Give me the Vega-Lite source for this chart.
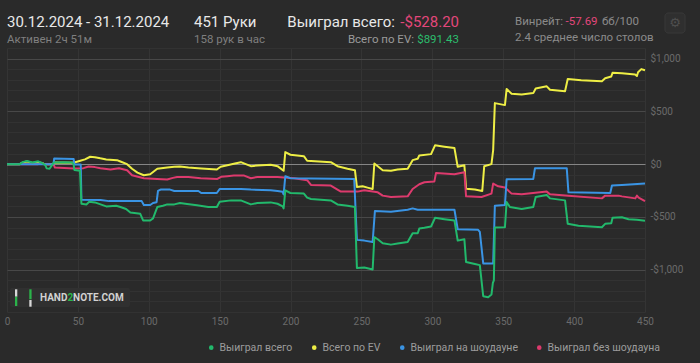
{
  "$schema": "https://vega.github.io/schema/vega-lite/v6.json",
  "width": 638,
  "height": 264,
  "autosize": {"type": "none"},
  "padding": {"left": 7, "top": 48, "right": 55, "bottom": 51},
  "background": "#2a2a2a",
  "config": {
    "view": {"stroke": null},
    "font": "Roboto",
    "text": {"font": "Roboto"}
  },
  "layer": [
    {
      "encoding": {
        "x": {
          "field": "h", "type": "quantitative",
          "scale": {"domain": [0, 450], "nice": false, "zero": false},
          "axis": {
            "values": [0, 50, 100, 150, 200, 250, 300, 350, 400, 450],
            "grid": true, "gridColor": "#343434", "ticks": false, "domain": false,
            "labelColor": "#6a6a6a", "labelFont": "Roboto", "labelFontSize": 10,
            "labelPadding": 4, "labelFlush": false, "labelOverlap": false, "title": null
          }
        },
        "y": {
          "field": "v", "type": "quantitative",
          "scale": {"domain": [-1400, 1100], "nice": false, "zero": false},
          "axis": {
            "orient": "right",
            "values": [-1400, -1300, -1200, -1100, -1000, -900, -800, -700, -600, -500, -400, -300, -200, -100, 0, 100, 200, 300, 400, 500, 600, 700, 800, 900, 1000, 1100],
            "grid": true,
            "gridColor": {"condition": [{"test": "datum.value === 0", "value": "#858585"}, {"test": "datum.value % 500 === 0", "value": "#484848"}], "value": "#323232"},
            "ticks": false, "domain": false,
            "labelExpr": "datum.value % 500 !== 0 ? '' : (datum.value < 0 ? '-$' + format(-datum.value, ',') : '$' + format(datum.value, ','))",
            "labelColor": "#6a6a6a", "labelFont": "Roboto", "labelFontSize": 10,
            "labelPadding": 5, "labelOverlap": false, "labelBound": false, "title": null
          }
        }
      },
      "layer": [
        {
          "data": {"values": [
            {"h":0,"v":0},{"h":9,"v":0},{"h":11,"v":15},{"h":14,"v":25},{"h":18,"v":12},{"h":22,"v":20},{"h":26,"v":5},{"h":28,"v":0},{"h":32.8,"v":0},{"h":33.5,"v":15},{"h":46,"v":14},{"h":48,"v":18},{"h":51.7,"v":32},{"h":55,"v":45},{"h":58.7,"v":70},{"h":62,"v":66},{"h":65.8,"v":55},{"h":70,"v":45},{"h":77.6,"v":38},{"h":80,"v":25},{"h":84.7,"v":0},{"h":88.2,"v":-44},{"h":92,"v":-80},{"h":96.5,"v":-105},{"h":101,"v":-95},{"h":106,"v":-44},{"h":113,"v":-32},{"h":118,"v":-25},{"h":122,"v":-22},{"h":128,"v":-32},{"h":137,"v":-40},{"h":148,"v":-51},{"h":150.7,"v":-25},{"h":157,"v":-5},{"h":160,"v":4},{"h":164.9,"v":19},{"h":172,"v":-19},{"h":176.6,"v":-13},{"h":186,"v":-6},{"h":190.8,"v":-19},{"h":195.1,"v":-63},{"h":196.3,"v":114},{"h":199.9,"v":89},{"h":209.4,"v":76},{"h":211.7,"v":32},{"h":228.4,"v":19},{"h":233.1,"v":-19},{"h":240.2,"v":-44},{"h":245.4,"v":-57},{"h":246.8,"v":-216},{"h":250.8,"v":-210},{"h":254.3,"v":-222},{"h":257.9,"v":-235},{"h":259.1,"v":6},{"h":261.5,"v":-19},{"h":265,"v":-57},{"h":270.8,"v":-63},{"h":275.5,"v":-51},{"h":282.6,"v":-44},{"h":286.1,"v":38},{"h":289.7,"v":51},{"h":290.8,"v":83},{"h":299.1,"v":95},{"h":301.9,"v":178},{"h":308.5,"v":165},{"h":315.6,"v":152},{"h":317.9,"v":-25},{"h":322.6,"v":-10},{"h":323.8,"v":-232},{"h":330,"v":-240},{"h":335.2,"v":-254},{"h":336.6,"v":-19},{"h":341.7,"v":0},{"h":342.9,"v":133},{"h":344.1,"v":578},{"h":351.2,"v":559},{"h":352.4,"v":711},{"h":355.9,"v":667},{"h":363,"v":660},{"h":371.2,"v":673},{"h":372.9,"v":717},{"h":380.7,"v":737},{"h":383,"v":705},{"h":393.6,"v":690},{"h":395.5,"v":806},{"h":405,"v":795},{"h":419.6,"v":785},{"h":421.9,"v":813},{"h":426.2,"v":830},{"h":427.1,"v":865},{"h":433.7,"v":860},{"h":443,"v":850},{"h":444.3,"v":835},{"h":445.1,"v":870},{"h":447.4,"v":900},{"h":450,"v":890}
          ]},
          "mark": {"type": "line", "strokeWidth": 2, "strokeJoin": "round"},
          "encoding": {"color": {"datum": "Всего по EV", "type": "nominal",
            "scale": {"domain": ["Выиграл всего", "Всего по EV", "Выиграл на шоудауне", "Выиграл без шоудауна"], "range": ["#22b96c", "#eeee45", "#3a94e4", "#dd3a6d"]},
            "legend": {"orient": "none", "legendX": 199, "legendY": 294, "direction": "horizontal", "symbolType": "circle", "symbolSize": 5, "symbolStrokeWidth": 2.4, "labelColor": "#9c9c9c", "labelFont": "Roboto", "labelFontSize": 10.5, "columnPadding": 15, "labelOffset": 3, "title": null, "padding": 0}}}
        },
        {
          "data": {"values": [
            {"h":0,"v":0},{"h":22,"v":0},{"h":24,"v":8},{"h":27,"v":0},{"h":32.8,"v":0},{"h":33.8,"v":-32},{"h":47,"v":-41},{"h":54,"v":-38},{"h":57.5,"v":-22},{"h":62,"v":-28},{"h":65.8,"v":-38},{"h":73,"v":-51},{"h":79,"v":-38},{"h":84.7,"v":-57},{"h":88.2,"v":-105},{"h":96.5,"v":-133},{"h":105.9,"v":-140},{"h":113,"v":-146},{"h":117,"v":-130},{"h":120,"v":-121},{"h":128,"v":-121},{"h":136.6,"v":-133},{"h":148.4,"v":-140},{"h":151,"v":-120},{"h":155.4,"v":-114},{"h":160,"v":-108},{"h":167.3,"v":-108},{"h":172,"v":-133},{"h":176.6,"v":-121},{"h":190.8,"v":-121},{"h":195.5,"v":-127},{"h":202.6,"v":-133},{"h":211.7,"v":-152},{"h":214.4,"v":-197},{"h":228.4,"v":-203},{"h":233.1,"v":-241},{"h":235.5,"v":-260},{"h":247.3,"v":-260},{"h":252,"v":-248},{"h":261.5,"v":-267},{"h":265,"v":-298},{"h":270.8,"v":-311},{"h":282.6,"v":-305},{"h":286.1,"v":-235},{"h":290.8,"v":-190},{"h":294.4,"v":-171},{"h":301.4,"v":-165},{"h":302.6,"v":-83},{"h":315.6,"v":-95},{"h":322.6,"v":-76},{"h":323.8,"v":-305},{"h":334.7,"v":-311},{"h":341.7,"v":-279},{"h":342.9,"v":-184},{"h":346.5,"v":-210},{"h":351.2,"v":-222},{"h":355.9,"v":-279},{"h":363,"v":-286},{"h":380.7,"v":-260},{"h":383,"v":-286},{"h":396,"v":-298},{"h":419.6,"v":-324},{"h":421.9,"v":-298},{"h":431.4,"v":-298},{"h":433.7,"v":-305},{"h":443.2,"v":-324},{"h":444.3,"v":-298},{"h":445.5,"v":-317},{"h":450,"v":-349}
          ]},
          "mark": {"type": "line", "strokeWidth": 2, "strokeJoin": "round"},
          "encoding": {"color": {"datum": "Выиграл без шоудауна", "type": "nominal"}}
        },
        {
          "data": {"values": [
            {"h":0,"v":0},{"h":32.8,"v":0},{"h":33.3,"v":54},{"h":47,"v":50},{"h":47.5,"v":-3},{"h":52,"v":-3},{"h":52.5,"v":-336},{"h":66,"v":-340},{"h":72,"v":-350},{"h":95,"v":-350},{"h":96.5,"v":-387},{"h":101,"v":-387},{"h":103,"v":-368},{"h":105.5,"v":-360},{"h":106.5,"v":-254},{"h":108.3,"v":-241},{"h":115,"v":-241},{"h":118,"v":-254},{"h":135,"v":-254},{"h":137,"v":-273},{"h":148,"v":-273},{"h":150,"v":-235},{"h":165,"v":-235},{"h":172,"v":-241},{"h":186,"v":-248},{"h":190.8,"v":-254},{"h":194.4,"v":-262},{"h":195.1,"v":-286},{"h":196.3,"v":-114},{"h":199.9,"v":-133},{"h":244.9,"v":-140},{"h":246.8,"v":-717},{"h":252,"v":-724},{"h":257.9,"v":-737},{"h":259.5,"v":-444},{"h":270.8,"v":-451},{"h":282.6,"v":-432},{"h":286.1,"v":-419},{"h":289.7,"v":-432},{"h":315.6,"v":-432},{"h":317.9,"v":-616},{"h":332.3,"v":-622},{"h":333.5,"v":-641},{"h":335.9,"v":-940},{"h":342.9,"v":-940},{"h":344.1,"v":-394},{"h":351.2,"v":-387},{"h":352.4,"v":-143},{"h":371.2,"v":-140},{"h":372.4,"v":-38},{"h":394.8,"v":-38},{"h":396,"v":-267},{"h":425.5,"v":-273},{"h":426.7,"v":-203},{"h":433.7,"v":-197},{"h":450,"v":-184}
          ]},
          "mark": {"type": "line", "strokeWidth": 2, "strokeJoin": "round"},
          "encoding": {"color": {"datum": "Выиграл на шоудауне", "type": "nominal"}}
        },
        {
          "data": {"values": [
            {"h":0,"v":0},{"h":9,"v":0},{"h":11,"v":19},{"h":14,"v":30},{"h":18,"v":15},{"h":22,"v":27},{"h":25,"v":10},{"h":27,"v":-10},{"h":28,"v":-40},{"h":30,"v":-44},{"h":32,"v":-5},{"h":33,"v":15},{"h":40,"v":18},{"h":46,"v":16},{"h":47,"v":-5},{"h":47.5,"v":-55},{"h":51.5,"v":-62},{"h":52.5,"v":-375},{"h":56,"v":-381},{"h":58,"v":-356},{"h":62,"v":-362},{"h":66,"v":-381},{"h":70,"v":-400},{"h":77,"v":-394},{"h":80,"v":-406},{"h":84,"v":-425},{"h":87,"v":-457},{"h":94,"v":-470},{"h":96,"v":-533},{"h":101,"v":-533},{"h":103,"v":-514},{"h":106,"v":-406},{"h":110,"v":-394},{"h":113,"v":-381},{"h":118,"v":-381},{"h":122,"v":-368},{"h":127,"v":-378},{"h":134,"v":-390},{"h":142,"v":-406},{"h":148,"v":-406},{"h":150,"v":-356},{"h":158,"v":-343},{"h":164.9,"v":-343},{"h":172,"v":-381},{"h":176.6,"v":-368},{"h":186,"v":-362},{"h":190.8,"v":-375},{"h":194.4,"v":-400},{"h":195.1,"v":-419},{"h":196.3,"v":-248},{"h":199.9,"v":-273},{"h":209.4,"v":-279},{"h":211.7,"v":-317},{"h":214.4,"v":-330},{"h":228.4,"v":-343},{"h":233.1,"v":-381},{"h":240.2,"v":-394},{"h":245.4,"v":-406},{"h":246.8,"v":-984},{"h":252,"v":-978},{"h":257.9,"v":-997},{"h":259.1,"v":-692},{"h":261.5,"v":-711},{"h":265,"v":-749},{"h":270.8,"v":-762},{"h":275.5,"v":-752},{"h":282.6,"v":-737},{"h":286.1,"v":-654},{"h":289.7,"v":-654},{"h":290.8,"v":-610},{"h":294.4,"v":-603},{"h":299.1,"v":-590},{"h":301.9,"v":-508},{"h":308.5,"v":-521},{"h":315.6,"v":-533},{"h":317.9,"v":-724},{"h":322.6,"v":-711},{"h":323.8,"v":-927},{"h":330,"v":-946},{"h":333.5,"v":-956},{"h":335.9,"v":-1251},{"h":339.4,"v":-1260},{"h":341.7,"v":-1235},{"h":342.7,"v":-1124},{"h":343.4,"v":-1100},{"h":344.1,"v":-600},{"h":351.2,"v":-597},{"h":352.4,"v":-359},{"h":354.7,"v":-406},{"h":363,"v":-425},{"h":371.2,"v":-406},{"h":372.9,"v":-311},{"h":380.7,"v":-292},{"h":383,"v":-324},{"h":393.6,"v":-343},{"h":395.5,"v":-565},{"h":403.1,"v":-584},{"h":419.6,"v":-597},{"h":421.9,"v":-565},{"h":426.2,"v":-559},{"h":427.1,"v":-508},{"h":433.7,"v":-502},{"h":438.4,"v":-521},{"h":444.3,"v":-527},{"h":450,"v":-535}
          ]},
          "mark": {"type": "line", "strokeWidth": 2, "strokeJoin": "round"},
          "encoding": {"color": {"datum": "Выиграл всего", "type": "nominal"}}
        }
      ]
    },
    {"data": {"values": [{}]}, "mark": {"type": "rect", "x": 3, "x2": 123, "y": 240, "y2": 259, "fill": "#303030", "cornerRadius": 2}},
    {"data": {"values": [{}]}, "mark": {"type": "rect", "x": 8, "x2": 10.3, "y": 241.3, "y2": 248.7, "fill": "#d8d8d8"}},
    {"data": {"values": [{}]}, "mark": {"type": "rect", "x": 8, "x2": 10.3, "y": 248.7, "y2": 258, "fill": "#2bb34a"}},
    {"data": {"values": [{}]}, "mark": {"type": "rect", "x": 22.3, "x2": 24.6, "y": 241.3, "y2": 251.3, "fill": "#2bb34a"}},
    {"data": {"values": [{}]}, "mark": {"type": "rect", "x": 22.3, "x2": 24.6, "y": 252, "y2": 258.7, "fill": "#d8d8d8"}},
    {"data": {"values": [{}]}, "mark": {"type": "rule", "x": 10.3, "y": 252.5, "x2": 22.3, "y2": 247.5, "stroke": "#2bb34a", "strokeWidth": 2}, "encoding": {}},
    {"data": {"values": [{}]}, "mark": {"type": "text", "text": "HAND", "x": 33, "y": 250, "align": "left", "baseline": "middle", "fontSize": 10, "fontWeight": "bold", "fill": "#d2d2d2"}},
    {"data": {"values": [{}]}, "mark": {"type": "text", "text": "2", "x": 60.5, "y": 250, "align": "left", "baseline": "middle", "fontSize": 10, "fontWeight": "bold", "fill": "#2bb34a"}},
    {"data": {"values": [{}]}, "mark": {"type": "text", "text": "NOTE.COM", "x": 66.1, "y": 250, "align": "left", "baseline": "middle", "fontSize": 10, "fontWeight": "bold", "fill": "#d2d2d2"}},
    {"data": {"values": [{}]}, "mark": {"type": "text", "text": "30.12.2024 - 31.12.2024", "x": 0, "y": -21, "align": "left", "baseline": "alphabetic", "fontSize": 15, "fill": "#e8e8e8"}},
    {"data": {"values": [{}]}, "mark": {"type": "text", "text": "Активен 2ч 51м", "x": 0, "y": -5, "align": "left", "baseline": "alphabetic", "fontSize": 11.5, "fill": "#7f7f7f"}},
    {"data": {"values": [{}]}, "mark": {"type": "text", "text": "451 Руки", "x": 187, "y": -21, "align": "left", "baseline": "alphabetic", "fontSize": 15, "fill": "#e8e8e8"}},
    {"data": {"values": [{}]}, "mark": {"type": "text", "text": "158 рук в час", "x": 187, "y": -5, "align": "left", "baseline": "alphabetic", "fontSize": 11.5, "fill": "#7f7f7f"}},
    {"data": {"values": [{}]}, "mark": {"type": "text", "text": "Выиграл всего:", "x": 388, "y": -21, "align": "right", "baseline": "alphabetic", "fontSize": 15, "fill": "#e8e8e8"}},
    {"data": {"values": [{}]}, "mark": {"type": "text", "text": "-$528.20", "x": 452, "y": -21, "align": "right", "baseline": "alphabetic", "fontSize": 15, "fill": "#e3477b"}},
    {"data": {"values": [{}]}, "mark": {"type": "text", "text": "Всего по EV:", "x": 407, "y": -5, "align": "right", "baseline": "alphabetic", "fontSize": 11.5, "fill": "#9a9a9a"}},
    {"data": {"values": [{}]}, "mark": {"type": "text", "text": "$891.43", "x": 452, "y": -5, "align": "right", "baseline": "alphabetic", "fontSize": 11.5, "fill": "#2cbd6d"}},
    {"data": {"values": [{}]}, "mark": {"type": "text", "text": "Винрейт:", "x": 508, "y": -23, "align": "left", "baseline": "alphabetic", "fontSize": 11.5, "fill": "#8a8a8a"}},
    {"data": {"values": [{}]}, "mark": {"type": "text", "text": "-57.69", "x": 558.5, "y": -23, "align": "left", "baseline": "alphabetic", "fontSize": 11.5, "fill": "#e3477b"}},
    {"data": {"values": [{}]}, "mark": {"type": "text", "text": "бб/100", "x": 595, "y": -23, "align": "left", "baseline": "alphabetic", "fontSize": 11.5, "fill": "#8a8a8a"}},
    {"data": {"values": [{}]}, "mark": {"type": "text", "text": "2.4 среднее число столов", "x": 508, "y": -7, "align": "left", "baseline": "alphabetic", "fontSize": 11.5, "fill": "#8a8a8a"}},
    {"data": {"values": [{}]}, "mark": {"type": "rect", "x": 658, "x2": 678, "y": -35, "y2": -15, "fill": "#2f2f2f", "stroke": "#383838", "cornerRadius": 3}},
    {"data": {"values": [{}]}, "mark": {"type": "text", "text": "⚙", "x": 668, "y": -25, "align": "center", "baseline": "middle", "font": "DejaVu Sans", "fontSize": 13, "fill": "#4e4e4e"}}
  ]
}
